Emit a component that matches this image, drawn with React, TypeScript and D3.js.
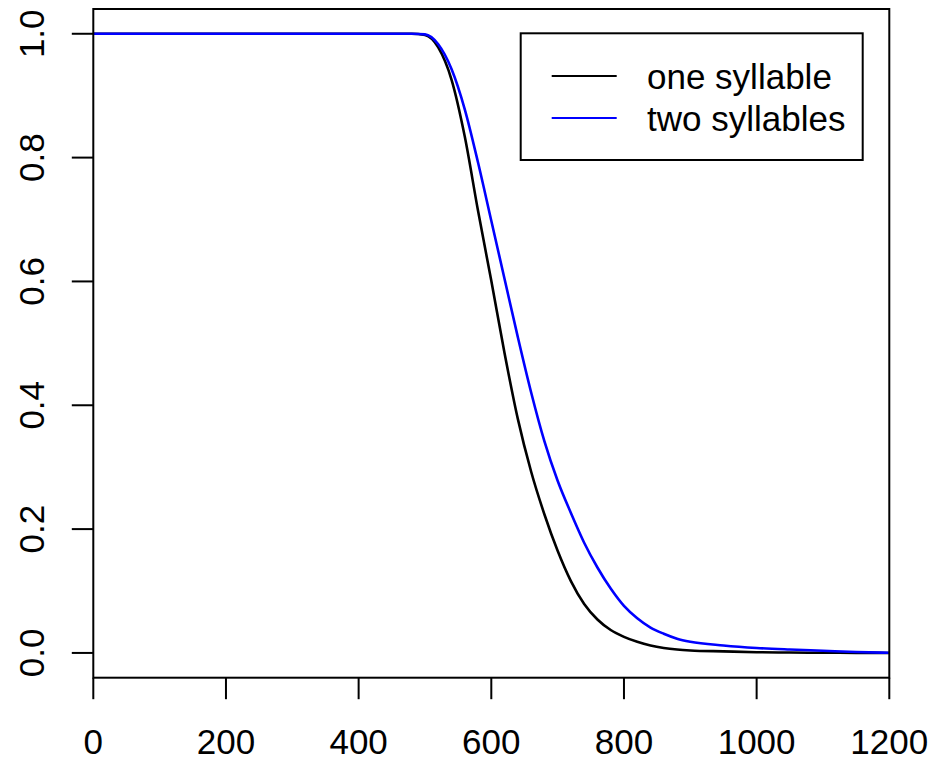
import React from "react";
import * as d3 from "d3";

// Survival-style proportion curves over time (ms)
const times = [0, 480, 500, 520, 540, 560, 580, 600, 620, 640, 660, 680, 700, 720, 740, 760, 780, 800, 820, 840, 860, 880, 900, 950, 1000, 1050, 1100, 1150, 1200];
const oneSyllable = [1, 1, 0.998, 0.978, 0.926, 0.834, 0.714, 0.601, 0.484, 0.378, 0.293, 0.224, 0.165, 0.116, 0.079, 0.054, 0.037, 0.026, 0.018, 0.012, 0.008, 0.0055, 0.004, 0.0025, 0.0012, 0.0006, 0.0003, 0.0001, 0];
const twoSyllables = [1, 1, 0.999, 0.983, 0.943, 0.878, 0.792, 0.698, 0.604, 0.51, 0.421, 0.342, 0.278, 0.226, 0.178, 0.138, 0.104, 0.076, 0.056, 0.041, 0.031, 0.023, 0.018, 0.012, 0.008, 0.0055, 0.0035, 0.0015, 0.0003];

const seriesNames = ["one syllable", "two syllables"];
const seriesColors = ["#000000", "#0000ff"];
const xTicks = [0, 200, 400, 600, 800, 1000, 1200];
const yTicks = [0, 0.2, 0.4, 0.6, 0.8, 1.0];

const W = 932;
const H = 761;
const left = 93.3;
const right = 889.3;
const top = 9;
const bottom = 677.7;
const fontSize = 35;
const font = "'Liberation Sans', Arial, sans-serif";

export default function App() {
  const x = d3.scaleLinear().domain([0, 1200]).range([left, right]);
  const y = d3.scaleLinear().domain([-0.04, 1.04]).range([bottom, top]);

  const line = d3
    .line<number>()
    .x((_, i) => x(times[i]))
    .y((d) => y(d))
    .curve(d3.curveMonotoneX);

  const series = [oneSyllable, twoSyllables];

  const legendX0 = 520.7;
  const legendY0 = 33.3;
  const legendX1 = 862.7;
  const legendY1 = 160;
  const legendRows = [76, 118];

  return (
    <div style={{ position: "absolute", left: 0, top: 0 }}>
      <svg width={W} height={H} style={{ display: "block", background: "#fff" }}>
        <rect x={0} y={0} width={W} height={H} fill="#fff" />
        <defs>
          <clipPath id="plot-area">
            <rect x={left} y={top} width={right - left} height={bottom - top} />
          </clipPath>
        </defs>

        {/* curves */}
        <g clipPath="url(#plot-area)">
          {series.map((s, i) => (
            <path
              key={seriesNames[i]}
              d={line(s) ?? ""}
              fill="none"
              stroke={seriesColors[i]}
              strokeWidth={2.6}
              strokeLinejoin="round"
            />
          ))}
        </g>

        {/* plot frame */}
        <rect x={left} y={top} width={right - left} height={bottom - top} fill="none" stroke="#000" strokeWidth={2} />

        {/* x axis */}
        <g>
          {xTicks.map((t) => (
            <g key={t}>
              <line x1={x(t)} x2={x(t)} y1={bottom} y2={bottom + 21.5} stroke="#000" strokeWidth={2} />
              <text x={x(t)} y={753.5} textAnchor="middle" fontFamily={font} fontSize={fontSize} fill="#000">
                {t}
              </text>
            </g>
          ))}
        </g>

        {/* y axis */}
        <g>
          {yTicks.map((t) => (
            <g key={t}>
              <line x1={left - 21.5} x2={left} y1={y(t)} y2={y(t)} stroke="#000" strokeWidth={2} />
              <text
                transform={`translate(${43.5},${y(t)}) rotate(-90)`}
                textAnchor="middle"
                fontFamily={font}
                fontSize={fontSize}
                fill="#000"
              >
                {t.toFixed(1)}
              </text>
            </g>
          ))}
        </g>

        {/* legend */}
        <rect
          x={legendX0}
          y={legendY0}
          width={legendX1 - legendX0}
          height={legendY1 - legendY0}
          fill="#fff"
          stroke="#000"
          strokeWidth={2}
        />
        {seriesNames.map((name, i) => (
          <g key={name}>
            <line x1={551.7} x2={616.7} y1={legendRows[i]} y2={legendRows[i]} stroke={seriesColors[i]} strokeWidth={1.8} />
            <text x={647} y={legendRows[i] + 12.5} fontFamily={font} fontSize={fontSize} fill="#000">
              {name}
            </text>
          </g>
        ))}
      </svg>
    </div>
  );
}
